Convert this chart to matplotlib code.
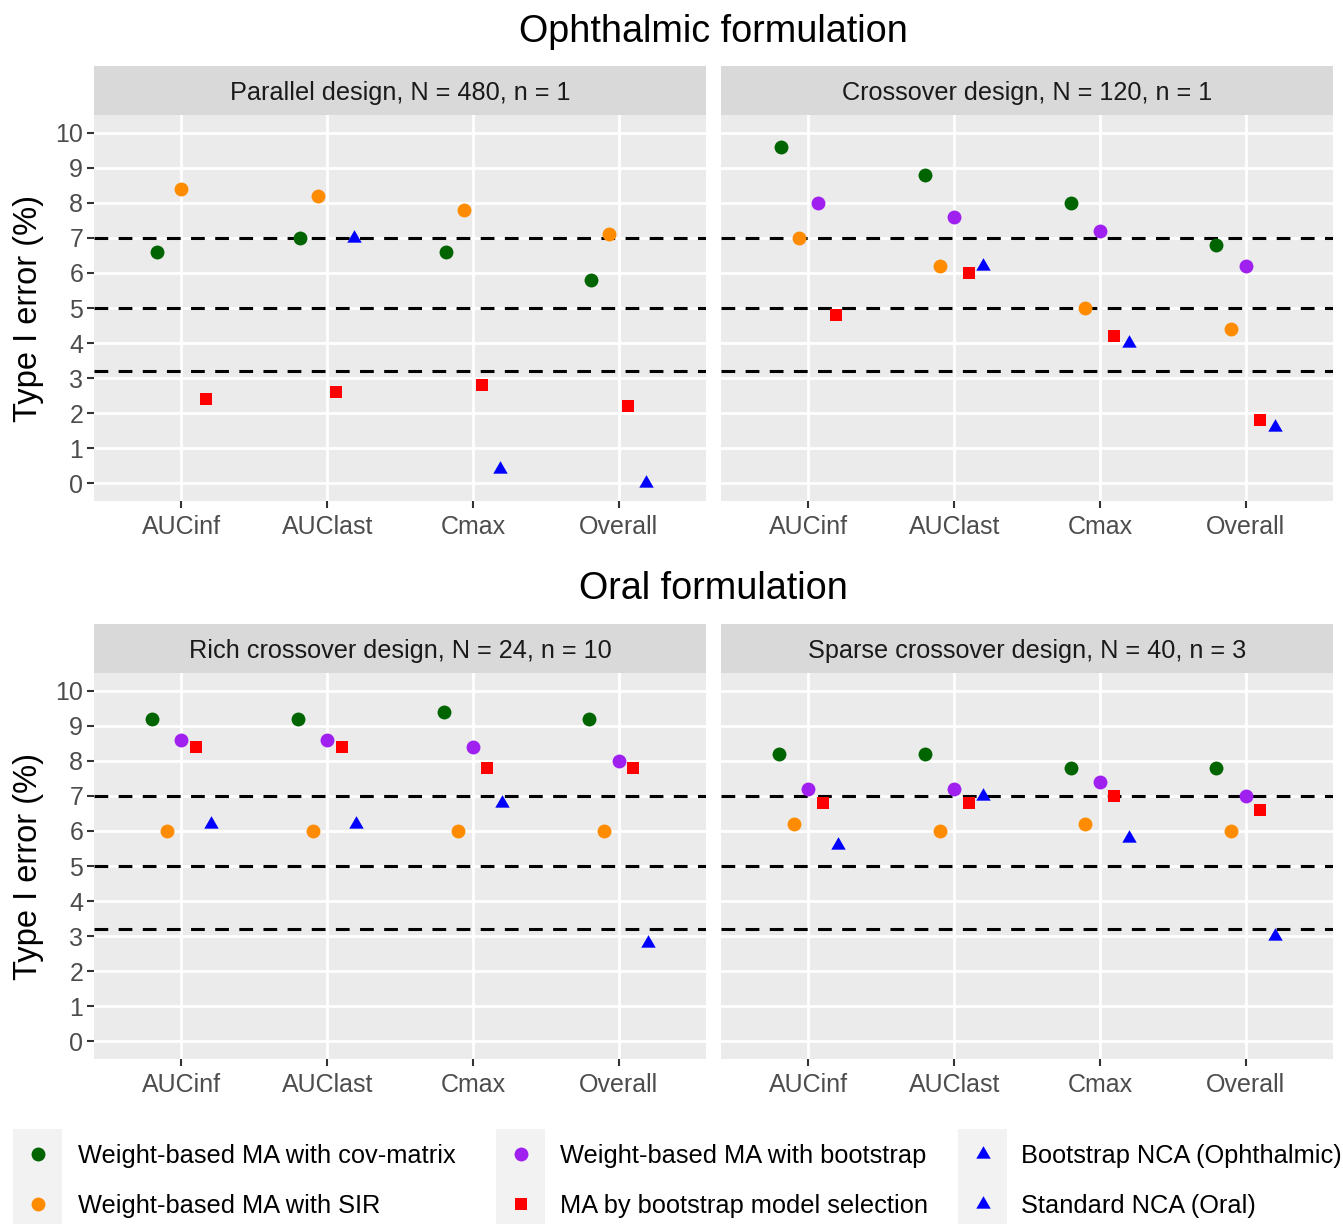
import numpy as np
import matplotlib
matplotlib.use("Agg")
from matplotlib import pyplot as plt
from matplotlib.lines import Line2D
from matplotlib.patches import Rectangle

plt.rcParams['font.family'] = ['Liberation Sans', 'DejaVu Sans']

W, H = 1343, 1224

categories = ["AUCinf", "AUClast", "Cmax", "Overall"]
nan = np.nan

series_names = ["Weight-based MA with cov-matrix", "Weight-based MA with SIR",
                "Weight-based MA with bootstrap", "MA by bootstrap model selection",
                "Bootstrap NCA (Ophthalmic)", "Standard NCA (Oral)"]
series_colors = ["#006400", "#FF8C00", "#A020F0", "#FF0000", "#0000FF", "#0000FF"]

# panel 1: parallel design (ophthalmic)
par_cov = [6.6, 7.0, 6.6, 5.8]
par_sir = [8.4, 8.2, 7.8, 7.1]
par_boot = [nan, nan, nan, nan]
par_sel = [2.4, 2.6, 2.8, 2.2]
par_nca = [nan, 7.0, 0.4, 0.0]

# panel 2: crossover design (ophthalmic)
cro_cov = [9.6, 8.8, 8.0, 6.8]
cro_sir = [7.0, 6.2, 5.0, 4.4]
cro_boot = [8.0, 7.6, 7.2, 6.2]
cro_sel = [4.8, 6.0, 4.2, 1.8]
cro_nca = [nan, 6.2, 4.0, 1.6]

# panel 3: rich crossover design (oral)
rich_cov = [9.2, 9.2, 9.4, 9.2]
rich_sir = [6.0, 6.0, 6.0, 6.0]
rich_boot = [8.6, 8.6, 8.4, 8.0]
rich_sel = [8.4, 8.4, 7.8, 7.8]
rich_nca = [6.2, 6.2, 6.8, 2.8]

# panel 4: sparse crossover design (oral)
sp_cov = [8.2, 8.2, 7.8, 7.8]
sp_sir = [6.2, 6.0, 6.2, 6.0]
sp_boot = [7.2, 7.2, 7.4, 7.0]
sp_sel = [6.8, 6.8, 7.0, 6.6]
sp_nca = [5.6, 7.0, 5.8, 3.0]

ref_lines = [7, 5, 3.2]

panels = [
    ("Parallel design, N = 480, n = 1", [par_cov, par_sir, par_boot, par_sel, par_nca], 4),
    ("Crossover design, N = 120, n = 1", [cro_cov, cro_sir, cro_boot, cro_sel, cro_nca], 4),
    ("Rich crossover design, N = 24, n = 10", [rich_cov, rich_sir, rich_boot, rich_sel, rich_nca], 5),
    ("Sparse crossover design, N = 40, n = 3", [sp_cov, sp_sir, sp_boot, sp_sel, sp_nca], 5),
]

tri = [(0, 0.577), (-0.5, -0.289), (0.5, -0.289)]
markers = [("o", 10.0), ("o", 10.0), ("o", 10.0), ("s", 8.0), (tri, 12.0)]


def box(x0, y0, x1, y1):
    return [x0 / W, 1 - y1 / H, (x1 - x0) / W, (y1 - y0) / H]


fig = plt.figure(figsize=(W / 100, H / 100), dpi=100)

cols = [(94, 706), (721, 1333)]
rows = [(66, 115, 501), (624, 673, 1059)]

for p, (title, data, blue_idx) in enumerate(panels):
    r, c = divmod(p, 2)
    x0, x1 = cols[c]
    st, pt, pb = rows[r]

    sax = fig.add_axes(box(x0, st, x1, pt))
    sax.set_facecolor("#D9D9D9")
    sax.set_xticks([])
    sax.set_yticks([])
    for s in sax.spines.values():
        s.set_visible(False)
    sax.text(0.5, 0.44, title, ha="center", va="center", fontsize=18.2,
             color="#1A1A1A", transform=sax.transAxes)

    ax = fig.add_axes(box(x0, pt, x1, pb))
    ax.set_facecolor("#EBEBEB")
    for s in ax.spines.values():
        s.set_visible(False)
    ax.set_xlim(0.4, 4.6)
    ax.set_ylim(-0.5, 10.5)
    ax.set_xticks(range(1, 5))
    ax.set_xticklabels(categories)
    ax.set_yticks(range(0, 11))
    ax.grid(True, color="white", linewidth=2.0)
    ax.set_axisbelow(True)
    ax.tick_params(axis="both", length=4.8, width=1.5, color="#333333",
                   labelcolor="#4D4D4D", labelsize=18, pad=3)
    ax.tick_params(axis="x", pad=5)
    if c == 1:
        ax.tick_params(axis="y", length=0, labelleft=False)

    for yv in ref_lines:
        ax.axhline(yv, color="black", linewidth=2.2, dashes=(4.5, 3.4), zorder=2)

    for j in range(len(categories)):
        present = [k for k in range(5) if not np.isnan(data[k][j])]
        n = len(present)
        for i, k in enumerate(present):
            off = (i - (n - 1) / 2) * 0.5 / n
            m, ms = markers[k]
            col = series_colors[k if k < 4 else blue_idx]
            ax.plot([j + 1 + off], [data[k][j]], linestyle="none", marker=m,
                    markersize=ms, color=col, markeredgewidth=0, zorder=3)

# formulation titles
fig.text(713 / W, 1 - 32 / H, "Ophthalmic formulation", ha="center", va="center", fontsize=27.2)
fig.text(713 / W, 1 - 589 / H, "Oral formulation", ha="center", va="center", fontsize=27.2)

# y axis titles
for yc in [308, 866]:
    fig.text(28 / W, 1 - yc / H, "Type I error (%)", ha="center", va="center",
             rotation=90, fontsize=23.5)

# legend
leg_cols = [(13, 78), (496, 560), (958, 1021)]
leg_rows = [1154, 1204]
leg_markers = [("o", 10.0), ("o", 10.0), ("o", 10.0), ("s", 8.0), (tri, 12.0), (tri, 12.0)]
for idx, name in enumerate(series_names):
    c, r = divmod(idx, 2)
    kx, tx = leg_cols[c]
    yc = leg_rows[r]
    fig.add_artist(Rectangle((kx / W, 1 - (yc + 25) / H), 49 / W, 50 / H,
                             transform=fig.transFigure, facecolor="#F2F2F2",
                             edgecolor="none", zorder=1))
    m, ms = leg_markers[idx]
    fig.add_artist(Line2D([(kx + 24.5) / W], [1 - yc / H], transform=fig.transFigure,
                          linestyle="none", marker=m, markersize=ms,
                          color=series_colors[idx], markeredgewidth=0, zorder=2))
    fig.text(tx / W, 1 - (yc + 2.5) / H, name, ha="left", va="center", fontsize=18.3)

fig.savefig("out.png", dpi=100)
